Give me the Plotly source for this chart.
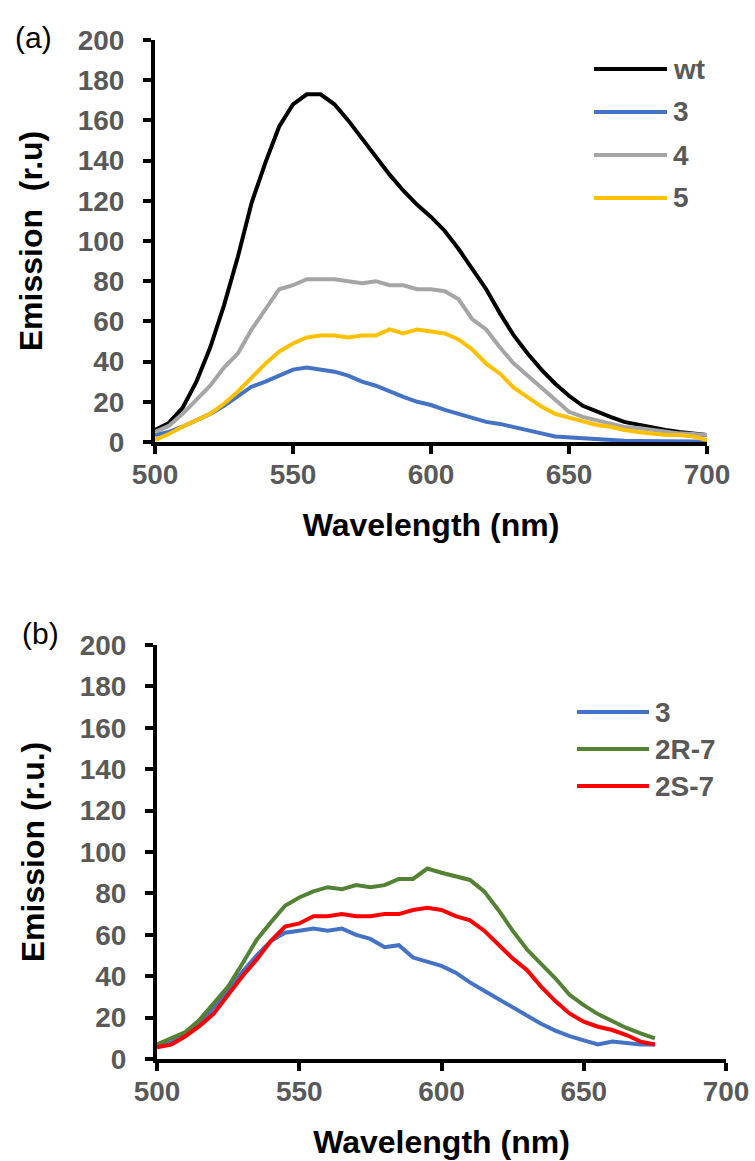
import plotly.graph_objects as go

# ---------------- data ----------------
wl_a = list(range(500, 701, 5))
wt = [6, 9.5, 17, 30, 47, 68, 92, 119, 139, 157, 168, 173, 173, 168, 160, 151, 142, 133, 125, 118,
      112, 105, 96, 86, 76, 64, 53, 44, 36, 29, 23, 18, 15, 12.5, 10, 8.5, 7, 6, 5, 4, 3.5]
s3_a = [3.5, 5, 7.6, 11, 14, 18, 23, 27.5, 30, 33, 36, 37, 36, 35, 33, 30, 28, 25, 22.5, 20,
        18.4, 16, 14, 12, 10, 9, 7.6, 6, 4.3, 2.7, 2.3, 1.8, 1, 0.8, 0.6, 0.5, 0.5, 0.3, 0.3, 0.2, 0]
s4_a = [5, 8, 14, 21, 28, 37, 44, 56, 66, 76, 78, 81, 81, 81, 80, 79, 80, 78, 78, 76,
        76, 75, 71, 61, 56, 47, 39, 33, 27.5, 21, 15, 12.5, 11, 9, 7.5, 7, 6, 5, 4.3, 4, 3.5]
s5_a = [1, 4, 7.6, 11, 14, 19, 25, 32, 39, 45, 49, 52, 53, 53, 52, 53, 53, 56, 54, 56,
        55, 54, 51, 46, 39, 34, 27, 22, 17.6, 14, 12, 10, 8.5, 7.6, 6, 5, 4.3, 3.5, 3.5, 2.7, 1]

wl_b = list(range(500, 676, 5))
s3_b = [6, 8, 11.6, 17, 25, 33, 42, 50, 57, 61, 62, 63, 62, 63, 60, 58, 54, 55, 49, 47,
        45, 41.7, 37, 33, 29, 25, 20.5, 17, 13.7, 11, 9, 7, 8.4, 7.6, 7, 7]
s2r7 = [7, 10, 13, 19, 27, 35, 46, 57.5, 66, 74, 78, 81, 83, 82, 84, 83, 84, 87, 87, 92,
        90, 88, 86.5, 81, 72, 62, 53, 46, 39, 31, 26, 21.7, 18.5, 15, 12.4, 10]
s2s7 = [5.6, 7, 11, 16, 22, 31, 40, 48, 57, 64, 65.5, 69, 69, 70, 69, 69, 70, 70, 72, 73,
        72, 69, 67, 62, 55, 48.6, 43, 35, 28, 22, 18, 15.6, 14, 11.6, 8.4, 7]

x_ticks = [500, 550, 600, 650, 700]
y_ticks = list(range(0, 201, 20))

names_a = ["wt", "3", "4", "5"]
names_b = ["3", "2R-7", "2S-7"]

# ---------------- style ----------------
W, H = 755, 1161
def px(x):
    return x / W
def py(y):
    return 1 - y / H

C_BLACK = "#000000"
C_BLUE = "#4472C4"
C_GRAY = "#A5A5A5"
C_YEL = "#FFC000"
C_GREEN = "#548235"
C_RED = "#FF0000"
TICK_COL = "#595959"
FONT = "Liberation Sans"

colors_a = [C_BLACK, C_BLUE, C_GRAY, C_YEL]
colors_b = [C_BLUE, C_GREEN, C_RED]
LW = 4

fig = go.Figure()
for name, ys, col in zip(names_a, [wt, s3_a, s4_a, s5_a], colors_a):
    fig.add_trace(go.Scatter(x=wl_a, y=ys, mode="lines", name=name,
                             line=dict(color=col, width=LW), xaxis="x", yaxis="y",
                             showlegend=False))
for name, ys, col in zip(names_b, [s3_b, s2r7, s2s7], colors_b):
    fig.add_trace(go.Scatter(x=wl_b, y=ys, mode="lines", name=name,
                             line=dict(color=col, width=LW), xaxis="x2", yaxis="y2",
                             showlegend=False))

tickfont = dict(family=FONT, size=28, color=TICK_COL, weight="bold")
titlefont = dict(family=FONT, size=32, color="black", weight="bold")

def xax(domain, anchor):
    return dict(domain=domain, anchor=anchor, range=[500, 700], tickvals=x_ticks,
                showline=True, linecolor="black", linewidth=4, ticks="outside",
                ticklen=8, tickwidth=4, tickcolor="black", tickfont=tickfont,
                showgrid=False, zeroline=False, automargin=False,
                ticklabelstandoff=-4,
                title=dict(text="Wavelength (nm)", font=titlefont, standoff=26))

def yax(domain, anchor, title):
    return dict(domain=domain, anchor=anchor, range=[0, 200], tickvals=y_ticks,
                showline=True, linecolor="black", linewidth=4, ticks="outside",
                ticklen=8, tickwidth=4, tickcolor="black", tickfont=tickfont,
                showgrid=False, zeroline=False, automargin=False,
                ticklabelstandoff=13,
                title=dict(text=title, font=titlefont, standoff=26))

fig.update_layout(
    width=W, height=H, margin=dict(l=0, r=0, t=0, b=0),
    paper_bgcolor="white", plot_bgcolor="white", showlegend=False,
    xaxis=xax([px(155), px(707)], "y"),
    yaxis=yax([py(442), py(40)], "x", "Emission  (r.u)"),
    xaxis2=xax([px(157), px(726)], "y2"),
    yaxis2=yax([py(1059), py(645)], "x2", "Emission (r.u.)"),
)

# panel labels
fig.add_annotation(x=px(33), y=py(38), xref="paper", yref="paper", text="(a)",
                   showarrow=False, xanchor="center", yanchor="middle",
                   font=dict(family=FONT, size=30, color="black"))
fig.add_annotation(x=px(40), y=py(633), xref="paper", yref="paper", text="(b)",
                   showarrow=False, xanchor="center", yanchor="middle",
                   font=dict(family=FONT, size=30, color="black"))

# custom legends
legfont = dict(family=FONT, size=28, color=TICK_COL, weight="bold")
def add_legend(names, colors, x0, x1, y0, dy):
    for i, (n, c) in enumerate(zip(names, colors)):
        yy = y0 + dy * i
        fig.add_shape(type="line", xref="paper", yref="paper",
                      x0=px(x0), x1=px(x1), y0=py(yy), y1=py(yy),
                      line=dict(color=c, width=4))
        fig.add_annotation(x=px(x1 + 4), y=py(yy), xref="paper", yref="paper",
                           text=n, showarrow=False, xanchor="left", yanchor="middle",
                           font=legfont)

add_legend(names_a, colors_a, 594, 667, 69, 43)
add_legend(names_b, colors_b, 577, 649, 712, 37)

fig.write_html("out.html")
